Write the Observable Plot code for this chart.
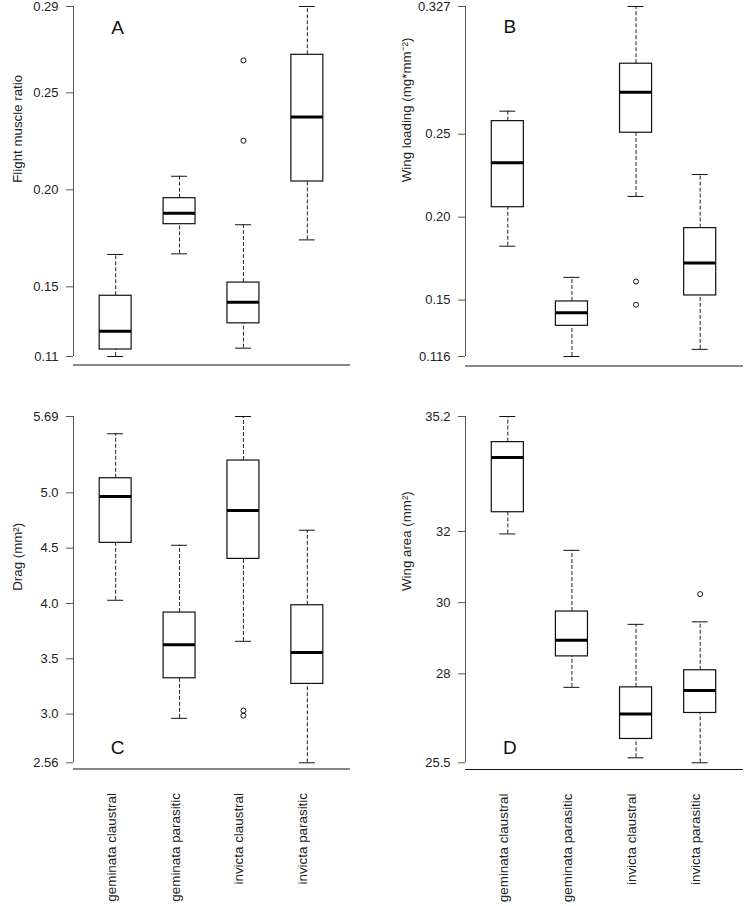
<!DOCTYPE html>
<html><head><meta charset="utf-8">
<script src="https://cdn.jsdelivr.net/npm/d3@7"></script>
<script src="https://cdn.jsdelivr.net/npm/@observablehq/plot@0.6"></script>
<style>
body{margin:0;background:#fff;}
#wrap{position:relative;width:744px;height:906px;overflow:hidden;}
#wrap svg{position:absolute;}
</style></head><body><div id="wrap"></div>
<script>
const categories = ["geminata claustral", "geminata parasitic", "invicta claustral", "invicta parasitic"];

// A: Flight muscle ratio
const fmrLow  = [0.1141, 0.1670, 0.1184, 0.1742];
const fmrQ1   = [0.1177, 0.1823, 0.1312, 0.2043];
const fmrMed  = [0.1271, 0.1879, 0.1421, 0.2376];
const fmrQ3   = [0.1454, 0.1957, 0.1522, 0.2696];
const fmrHigh = [0.1667, 0.2070, 0.1820, 0.2945];
const fmrOutGroup = [2, 2];
const fmrOutValue = [0.2667, 0.2253];
const fmrDomain = [0.1141, 0.2945];
const fmrTicks = [0.1141, 0.15, 0.20, 0.25, 0.2945];
const fmrTickLabels = ["0.11", "0.15", "0.20", "0.25", "0.29"];

// B: Wing loading
const wlLow  = [0.1825, 0.1160, 0.2125, 0.1203];
const wlQ1   = [0.2060, 0.1345, 0.2509, 0.1528];
const wlMed  = [0.2328, 0.1424, 0.2753, 0.1723];
const wlQ3   = [0.2579, 0.1492, 0.2925, 0.1934];
const wlHigh = [0.2639, 0.1637, 0.3270, 0.2257];
const wlOutGroup = [2, 2];
const wlOutValue = [0.1612, 0.1472];
const wlDomain = [0.116, 0.327];
const wlTicks = [0.116, 0.15, 0.20, 0.25, 0.327];
const wlTickLabels = ["0.116", "0.15", "0.20", "0.25", "0.327"];

// C: Drag
const dragLow  = [4.029, 2.962, 3.658, 2.560];
const dragQ1   = [4.548, 3.324, 4.403, 3.273];
const dragMed  = [4.967, 3.626, 4.840, 3.556];
const dragQ3   = [5.132, 3.918, 5.292, 3.984];
const dragHigh = [5.534, 4.526, 5.690, 4.662];
const dragOutGroup = [2, 2];
const dragOutValue = [3.032, 2.986];
const dragDomain = [2.56, 5.69];
const dragTicks = [2.56, 3.0, 3.5, 4.0, 4.5, 5.0, 5.69];
const dragTickLabels = ["2.56", "3.0", "3.5", "4.0", "4.5", "5.0", "5.69"];

// D: Wing area
const waLow  = [31.93, 27.62, 25.64, 25.50];
const waQ1   = [32.54, 28.49, 26.17, 26.90];
const waMed  = [34.08, 28.94, 26.87, 27.53];
const waQ3   = [34.51, 29.75, 27.62, 28.10];
const waHigh = [35.23, 31.47, 29.39, 29.46];
const waOutGroup = [3];
const waOutValue = [30.24];
const waDomain = [25.5, 35.23];
const waTicks = [25.5, 28, 30, 32, 35.23];
const waTickLabels = ["25.5", "28", "30", "32", "35.2"];

const FONT = "'Liberation Sans', Arial, Helvetica, sans-serif";
const HALF_BOX = 0.25, HALF_CAP = 0.125;
const X_DOMAIN = [0.34, 4.66];

function panel(s, lay) {
  const idx = d3.range(categories.length);
  const xc = i => i + 1;
  const outliers = s.outGroup.map((g, k) => ({g, v: s.outValue[k]}));
  const labelMap = new Map(s.ticks.map((t, k) => [t, s.tickLabels[k]]));
  const dash = "4,2";
  const marks = [
    Plot.ruleX([X_DOMAIN[0]], {y1: s.domain[0], y2: s.domain[1], stroke: "#555", strokeWidth: 1}),
    Plot.axisY(s.ticks, {label: null, tickFormat: d => labelMap.get(d), tickSize: 7, tickPadding: 8, fontSize: 13, stroke: "#555", fill: "#222"}),
    Plot.ruleX(idx, {x: xc, y1: i => s.q3[i], y2: i => s.high[i], stroke: "#222", strokeDasharray: dash}),
    Plot.ruleX(idx, {x: xc, y1: i => s.low[i], y2: i => s.q1[i], stroke: "#222", strokeDasharray: dash}),
    Plot.ruleY(idx, {y: i => s.high[i], x1: i => xc(i) - HALF_CAP, x2: i => xc(i) + HALF_CAP, stroke: "#111"}),
    Plot.ruleY(idx, {y: i => s.low[i], x1: i => xc(i) - HALF_CAP, x2: i => xc(i) + HALF_CAP, stroke: "#111"}),
    Plot.rect(idx, {x1: i => xc(i) - HALF_BOX, x2: i => xc(i) + HALF_BOX, y1: i => s.q1[i], y2: i => s.q3[i], fill: "white", stroke: "#111", strokeWidth: 1.2}),
    Plot.ruleY(idx, {y: i => s.med[i], x1: i => xc(i) - HALF_BOX, x2: i => xc(i) + HALF_BOX, stroke: "#000", strokeWidth: 3}),
    Plot.dot(outliers, {x: d => xc(d.g), y: "v", r: 2.5, stroke: "#111", fill: "none", strokeWidth: 1}),
    Plot.frame({anchor: "bottom", stroke: "#111"}),
    Plot.text([s.title], {frameAnchor: "left", rotate: -90, dx: lay.titleDx, dy: lay.titleDy, fontSize: 13.3, fill: "#222"}),
    Plot.text([s.letter], {x: 1, frameAnchor: lay.letterAnchor, dy: lay.letterDy, dx: 2, fontSize: 19, fill: "#111"})
  ];
  if (lay.xLabels) {
    marks.push(Plot.text(categories, {x: (d, i) => xc(i), frameAnchor: "bottom", dy: 24, rotate: -90, textAnchor: "end", fontSize: 13.4, fill: "#222"}));
  }
  const svg = Plot.plot({
    width: lay.width, height: lay.height,
    marginLeft: lay.ml, marginRight: lay.mr, marginTop: lay.mt, marginBottom: lay.mb,
    insetBottom: lay.ib,
    x: {type: "linear", domain: X_DOMAIN, axis: null},
    y: {type: "linear", domain: s.domain},
    style: {fontFamily: FONT, background: "white", overflow: "visible", color: "#111"},
    marks
  });
  svg.style.left = lay.left + "px";
  svg.style.top = lay.top + "px";
  document.getElementById("wrap").appendChild(svg);
}

panel({low: fmrLow, q1: fmrQ1, med: fmrMed, q3: fmrQ3, high: fmrHigh, outGroup: fmrOutGroup, outValue: fmrOutValue,
  domain: fmrDomain, ticks: fmrTicks, tickLabels: fmrTickLabels, title: "Flight muscle ratio", letter: "A"},
  {left: 0, top: 0, width: 372, height: 380, ml: 73, mr: 23, mt: 6, mb: 15.5, ib: 8.5,
   titleDx: -56, titleDy: -3, letterAnchor: "top", letterDy: 14, xLabels: false});

panel({low: wlLow, q1: wlQ1, med: wlMed, q3: wlQ3, high: wlHigh, outGroup: wlOutGroup, outValue: wlOutValue,
  domain: wlDomain, ticks: wlTicks, tickLabels: wlTickLabels, title: "Wing loading (mg*mm\u207B\u00B2)", letter: "B"},
  {left: 372, top: 0, width: 372, height: 380, ml: 93, mr: 2, mt: 6, mb: 14.5, ib: 9.5,
   titleDx: -59, titleDy: -4, letterAnchor: "top", letterDy: 13, xLabels: false});

panel({low: dragLow, q1: dragQ1, med: dragMed, q3: dragQ3, high: dragHigh, outGroup: dragOutGroup, outValue: dragOutValue,
  domain: dragDomain, ticks: dragTicks, tickLabels: dragTickLabels, title: "Drag (mm\u00B2)", letter: "C"},
  {left: 0, top: 380, width: 372, height: 526, ml: 73, mr: 23, mt: 36, mb: 137.5, ib: 6.2,
   titleDx: -56, titleDy: -2, letterAnchor: "bottom", letterDy: -15.5, xLabels: true});

panel({low: waLow, q1: waQ1, med: waMed, q3: waQ3, high: waHigh, outGroup: waOutGroup, outValue: waOutValue,
  domain: waDomain, ticks: waTicks, tickLabels: waTickLabels, title: "Wing area (mm\u00B2)", letter: "D"},
  {left: 372, top: 380, width: 372, height: 526, ml: 93, mr: 2, mt: 36, mb: 137, ib: 6.7,
   titleDx: -59, titleDy: -2, letterAnchor: "bottom", letterDy: -16, xLabels: true});
</script></body></html>
